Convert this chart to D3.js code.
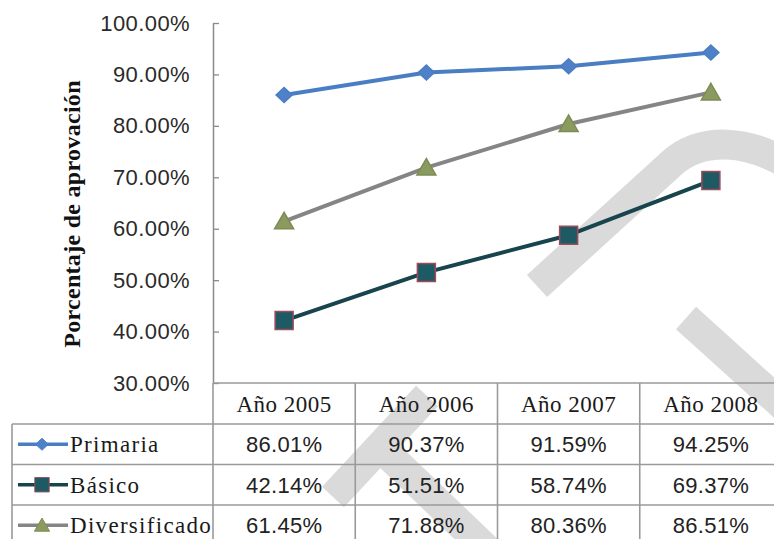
<!DOCTYPE html>
<html>
<head>
<meta charset="utf-8">
<script src="https://cdn.jsdelivr.net/npm/d3@7"></script>
<style>
  html, body { margin: 0; padding: 0; background: #ffffff; }
  svg { display: block; }
  .serif { font-family: "Liberation Serif", "Times New Roman", Times, "DejaVu Serif", serif; }
  .sans { font-family: "Liberation Sans", Arial, Helvetica, sans-serif; }
</style>
</head>
<body>
<svg id="chart" width="774" height="539"></svg>
<script>
// Approval rates by school level, 2005-2008
const years = ["Año 2005", "Año 2006", "Año 2007", "Año 2008"];
const primaria = [86.01, 90.37, 91.59, 94.25];
const basico = [42.14, 51.51, 58.74, 69.37];
const diversificado = [61.45, 71.88, 80.36, 86.51];
const seriesNames = ["Primaria", "Básico", "Diversificado"];
const yTicks = [30, 40, 50, 60, 70, 80, 90, 100];

const series = [
  { name: seriesNames[0], values: primaria, line: "#4a7ec2", marker: "diamond", fill: "#4f81c9", stroke: "#4a7ec2" },
  { name: seriesNames[1], values: basico, line: "#17444d", marker: "square", fill: "#1e5a63", stroke: "#9c4a5c" },
  { name: seriesNames[2], values: diversificado, line: "#858585", marker: "triangle", fill: "#8b9b60", stroke: "#7d8c52" }
];

const svg = d3.select("#chart");
const W = 774;

// layout
const plotLeft = 213, tableRight = 782;
const plotTop = 23, plotBottom = 383;
const headerH = 41, rowH = 40.5;
const legendLeft = 12;

const x = d3.scaleBand().domain(years).range([plotLeft, tableRight]);
const y = d3.scaleLinear().domain([30, 100]).range([plotBottom, plotTop]);

// faint background watermark
const wm = svg.append("g").attr("fill", "none").attr("stroke", "#dadada")
  .attr("stroke-width", 30).attr("stroke-linecap", "butt");
wm.append("path").attr("d", "M333,497 L427,396");
wm.append("path").attr("d", "M380,447 L500,562");
wm.append("path").attr("d", "M537,286 L672,163 C700,138 748,136 800,172");
wm.append("path").attr("d", "M686,318 L810,430");

// y axis
const yAxis = d3.axisLeft(y).tickValues(yTicks)
  .tickSizeInner(-6).tickSizeOuter(0).tickPadding(23)
  .tickFormat(d => d3.format(".2f")(d) + "%");
const ga = svg.append("g").attr("transform", `translate(${plotLeft},0)`).call(yAxis);
ga.attr("font-family", null).attr("font-size", null);
ga.select(".domain").attr("stroke", "#8a8a8a").attr("stroke-width", 1.5);
ga.selectAll(".tick line").attr("stroke", "#8a8a8a").attr("stroke-width", 1.3);
ga.selectAll(".tick text").attr("class", "sans")
  .attr("font-size", 22).attr("letter-spacing", 0.4).attr("fill", "#2a2a2a");

// axis title
svg.append("text").attr("class", "serif")
  .attr("transform", `translate(80,${(80 + 348) / 2}) rotate(-90)`)
  .attr("text-anchor", "middle")
  .attr("font-weight", "bold").attr("font-size", 24).attr("letter-spacing", 0.3)
  .attr("fill", "#111")
  .text("Porcentaje de aprovación");

// data table grid
const grid = svg.append("g").attr("stroke", "#9a9a9a").attr("stroke-width", 1.6).attr("fill", "none");
const tableBottom = plotBottom + headerH + rowH * 3 + 20;
grid.append("line").attr("x1", plotLeft).attr("x2", W).attr("y1", plotBottom).attr("y2", plotBottom);
for (let i = 0; i < 3; i++) {
  const yy = plotBottom + headerH + rowH * i;
  grid.append("line").attr("x1", legendLeft).attr("x2", W).attr("y1", yy).attr("y2", yy);
}
grid.append("line").attr("x1", legendLeft).attr("x2", legendLeft)
  .attr("y1", plotBottom + headerH).attr("y2", tableBottom);
years.forEach(yr => {
  grid.append("line").attr("x1", x(yr)).attr("x2", x(yr))
    .attr("y1", plotBottom).attr("y2", tableBottom);
});

// header labels
svg.append("g").selectAll("text").data(years).join("text").attr("class", "serif")
  .attr("x", d => x(d) + x.bandwidth() / 2)
  .attr("y", plotBottom + headerH / 2 + 8)
  .attr("text-anchor", "middle")
  .attr("font-size", 23).attr("letter-spacing", 0.5).attr("fill", "#1a1a1a")
  .text(d => d);

// marker shapes
function markerPath(kind) {
  if (kind === "diamond") return "M0,-7.5 L8,0 L0,7.5 L-8,0 Z";
  if (kind === "square") return "M-9,-9 L9,-9 L9,9 L-9,9 Z";
  return "M0,-9 L9.5,7.5 L-9.5,7.5 Z";
}

// table rows: legend key + values
series.forEach((s, i) => {
  const cy = plotBottom + headerH + rowH * i + rowH / 2;
  const g = svg.append("g");
  g.append("line").attr("x1", 18).attr("x2", 68).attr("y1", cy).attr("y2", cy)
    .attr("stroke", s.line).attr("stroke-width", 3.5);
  g.append("path").attr("d", markerPath(s.marker))
    .attr("transform", `translate(42,${cy}) scale(0.8)`)
    .attr("fill", s.fill).attr("stroke", s.stroke).attr("stroke-width", 1.2);
  g.append("text").attr("class", "serif").attr("x", 70).attr("y", cy + 8)
    .attr("font-size", 23).attr("letter-spacing", 1.3).attr("fill", "#1a1a1a")
    .text(s.name);
  g.selectAll("text.v").data(s.values).join("text").attr("class", "v sans")
    .attr("x", (d, j) => x(years[j]) + x.bandwidth() / 2)
    .attr("y", cy + 8)
    .attr("text-anchor", "middle")
    .attr("font-size", 22).attr("letter-spacing", 0.3).attr("fill", "#222")
    .text(d => d.toFixed(2) + "%");
});

// series lines and markers
const line = d3.line().x((d, j) => x(years[j]) + x.bandwidth() / 2).y(d => y(d));
series.forEach(s => {
  svg.append("path").datum(s.values).attr("d", line)
    .attr("fill", "none").attr("stroke", s.line).attr("stroke-width", 4)
    .attr("stroke-linejoin", "round");
  svg.append("g").selectAll("path").data(s.values).join("path")
    .attr("d", markerPath(s.marker))
    .attr("transform", (d, j) => `translate(${x(years[j]) + x.bandwidth() / 2},${y(d)})`)
    .attr("fill", s.fill).attr("stroke", s.stroke).attr("stroke-width", 1.5);
});
</script>
</body>
</html>
